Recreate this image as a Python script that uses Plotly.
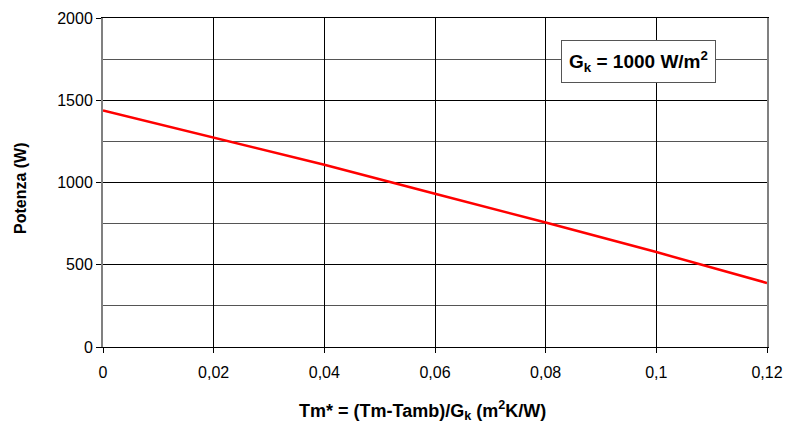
import plotly.graph_objects as go

x_vals = [0, 0.02, 0.04, 0.06, 0.08, 0.10, 0.12]
potenza = [1438, 1274, 1108, 932, 757, 577, 389]
x_ticks = [0, 0.02, 0.04, 0.06, 0.08, 0.1, 0.12]
x_ticklabels = ["0", "0,02", "0,04", "0,06", "0,08", "0,1", "0,12"]
y_ticks = [0, 500, 1000, 1500, 2000]

FONT = "Liberation Sans, Arial, sans-serif"
L, T, W, H = 103, 18, 664, 329

fig = go.Figure()
fig.add_trace(go.Scatter(x=x_vals, y=potenza, mode="lines",
                         line=dict(color="#ff0000", width=2.5), showlegend=False))

fig.update_layout(
    width=786, height=423,
    margin=dict(l=L, r=786 - L - W, t=T, b=423 - T - H),
    paper_bgcolor="white", plot_bgcolor="white",
    font=dict(family=FONT, size=16, color="black"),
    xaxis=dict(range=[0, 0.12], tickvals=x_ticks, ticktext=x_ticklabels,
               showgrid=True, gridcolor="black", gridwidth=1,
               showline=True, linecolor="black", linewidth=1, mirror=True,
               ticks="outside", ticklen=5, tickcolor="black", ticklabelstandoff=6,
               tickfont=dict(size=16), zeroline=False, automargin=False),
    yaxis=dict(range=[0, 2000], tickvals=y_ticks,
               showgrid=True, gridcolor="black", gridwidth=1,
               minor=dict(dtick=250, showgrid=True, gridcolor="#555555", gridwidth=1),
               showline=True, linecolor="#808080", linewidth=2, mirror=True,
               ticks="outside", ticklen=5, tickcolor="black",
               tickfont=dict(size=16), zeroline=False, automargin=False),
)

def px_x(px):
    return (px - L) / W

def px_y(py):
    return (T + H - py) / H

fig.add_annotation(
    xref="paper", yref="paper", x=px_x(422), y=px_y(410),
    text="<b>Tm* = (Tm-Tamb)/G<sub>k</sub> (m<sup>2</sup>K/W)</b>", showarrow=False,
    font=dict(family=FONT, size=18, color="black"), xanchor="center", yanchor="middle",
)
fig.add_annotation(
    xref="paper", yref="paper", x=px_x(20), y=px_y(188),
    text="<b>Potenza (W)</b>", showarrow=False, textangle=-90,
    font=dict(family=FONT, size=16, color="black"), xanchor="center", yanchor="middle",
)
fig.add_annotation(
    xref="paper", yref="paper", x=px_x(638), y=px_y(61),
    text="<b>G<sub>k</sub> = 1000 W/m<sup>2</sup></b>", showarrow=False,
    font=dict(family=FONT, size=19, color="black"),
    bgcolor="white", bordercolor="#555555", borderwidth=1, borderpad=7,
    xanchor="center", yanchor="middle",
)

fig.write_html("out.html", config={"displayModeBar": False},
               post_script="document.body.style.margin='0';document.body.style.overflow='hidden';")
